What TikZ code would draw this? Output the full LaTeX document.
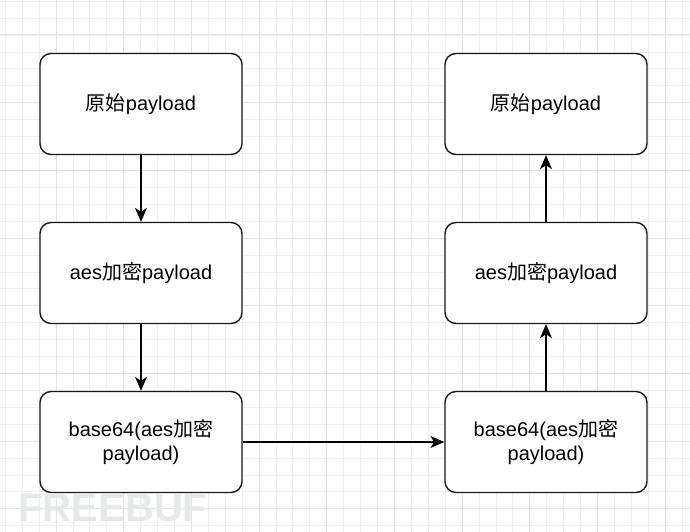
\documentclass[tikz,border=0pt]{standalone}
\usepackage{fontspec}
\setmainfont{Liberation Sans}
\newfontfamily\zhfont{Noto Sans CJK SC}
\newcommand\zh[1]{{\zhfont #1}}
\usetikzlibrary{arrows.meta,chains,positioning}

\definecolor{gridfine}{HTML}{F0F0F0}
\definecolor{gridmajor}{HTML}{E2E2E2}
\definecolor{markgray}{HTML}{E4EAE6}

\begin{document}
\begin{tikzpicture}[
  x=1pt, y=1pt,
  start chain=encode going below,
  start chain=decode going above,
  node distance=66.6pt,
  stage/.style={
    draw=black!90,
    line width=1.4pt,
    rounded corners=11pt,
    fill=white,
    minimum width=202pt,
    minimum height=101pt,
    inner sep=0pt,
    align=center,
    font=\fontsize{20}{24}\selectfont
  },
  flow/.style={-{Stealth[length=14pt,width=12pt,inset=4pt]},line width=1.3pt},
  every join/.style={flow}
]
  \useasboundingbox[fill=white] (0,0) rectangle (690,-532);

  % background grid
  \foreach \gx in {0,...,40}
    \draw[gridfine,line width=0.8pt] ({5.24+16.92*\gx},0) -- ++(0,-532);
  \foreach \gy in {0,...,31}
    \draw[gridfine,line width=0.8pt] (0,{-1.2-16.92*\gy}) -- ++(690,0);
  \foreach \gx in {0,...,9}
    \draw[gridmajor,line width=1pt] ({56+67.68*\gx},0) -- ++(0,-532);
  \foreach \gy in {0,...,7}
    \draw[gridmajor,line width=1pt] (0,{-35-67.68*\gy}) -- ++(690,0);

  % encrypt side
  \node[stage,on chain=encode] (raw) at (141,-104) {\zh{原始}payload};
  \node[stage,on chain=encode,join] (aes) {aes\zh{加密}payload};
  \node[stage,on chain=encode,join] (b64) {base64(aes\zh{加密}\\payload)};

  % decrypt side
  \node[stage,on chain=decode] (b64back) at (546,-442) {base64(aes\zh{加密}\\payload)};
  \node[stage,on chain=decode,join] (aesback) {aes\zh{加密}payload};
  \node[stage,on chain=decode,join] (rawback) {\zh{原始}payload};

  \draw[flow] (b64) -- (b64back);

  \node[text=markgray,font=\bfseries\fontsize{40}{40}\selectfont,inner sep=0pt] (mark) at (113,-508) {FREEBUF};
\end{tikzpicture}
\end{document}
